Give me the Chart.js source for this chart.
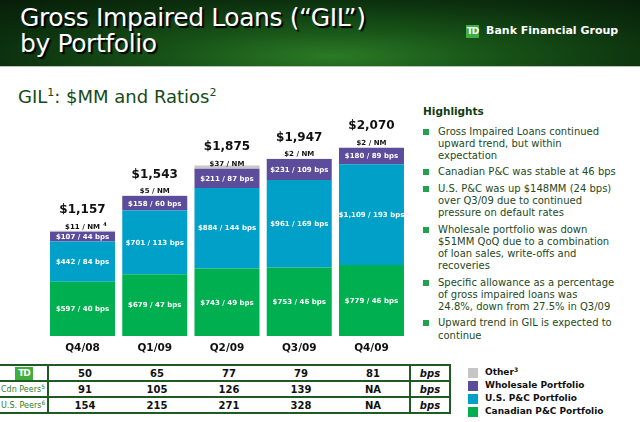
<!DOCTYPE html>
<html>
<head>
<meta charset="utf-8">
<script src="https://cdn.jsdelivr.net/npm/chart.js@4/dist/chart.umd.min.js"></script>
<style>
  html,body{margin:0;padding:0;background:#fff;}
  body{width:640px;height:422px;position:relative;overflow:hidden;font-family:"DejaVu Sans",sans-serif;}
  #hdr{position:absolute;left:0;top:0;width:640px;height:66px;
       background:radial-gradient(ellipse 75% 120% at 52% 85%, #2b7a26 0%, #175217 35%, #0c300e 70%, #071d09 100%);
       border-bottom:1px solid #b9c2b9;}
  #title{position:absolute;left:20px;top:5px;color:#fff;font-size:25px;line-height:26px;letter-spacing:-0.4px;
         text-shadow:2px 2px 1px #000;white-space:nowrap;}
  #logo{position:absolute;left:466px;top:25px;width:13px;height:13px;background:#3fae3f;color:#fff;
        font:bold 9px "DejaVu Sans";line-height:13px;text-align:center;letter-spacing:-1px;}
  #bfg{position:absolute;left:486px;top:24px;color:#fff;font:bold 11px "DejaVu Sans";line-height:14px;white-space:nowrap;}
  #sub{position:absolute;left:18px;top:86px;color:#174a17;font-size:18px;line-height:22px;white-space:nowrap;}
  #sub sup{font-size:11px;vertical-align:7px;line-height:0;}
  #chartbox{position:absolute;left:0;top:70px;width:420px;height:290px;}
  #hl{position:absolute;left:423px;top:104px;color:#0f3d12;font:bold 10.5px "DejaVu Sans";line-height:15px;}
  #list{position:absolute;left:423px;top:125.6px;width:215px;}
  .it{position:relative;padding-left:15px;color:#1e4a1e;font-size:10px;line-height:12.2px;margin-bottom:4.2px;white-space:nowrap;}
  .it:before{content:"";position:absolute;left:0;top:3px;width:6px;height:6px;background:#1fa34a;}
  #tbl{position:absolute;left:0;top:364px;border-collapse:collapse;}
  #tbl td{height:14px;padding:0;border-top:2px solid #1f5a22;border-bottom:2px solid #1f5a22;
          font:bold 10px "DejaVu Sans";color:#111;text-align:center;}
  #tbl td.lab{width:46px;text-align:left;font:8px "DejaVu Sans";color:#2e7d32;border-right:2px solid #1f5a22;white-space:nowrap;padding-left:1px;}
  #tbl td.lab sup{font-size:6px;vertical-align:3px;line-height:0;}
  #tbl td.num{width:72px;}
  #tbl td.unit{width:38px;font-style:italic;border-left:2px solid #1f5a22;border-right:2px solid #1f5a22;}
  .tdl{display:inline-block;width:18px;height:13px;background:#3fae3f;color:#fff;font:bold 9px "DejaVu Sans";line-height:13px;text-align:center;margin-left:14px;letter-spacing:-1px;}
  #leg{position:absolute;left:468px;top:366px;}
  .lg{position:relative;height:13px;padding-left:17px;font:bold 9px "DejaVu Sans";line-height:13px;color:#111;white-space:nowrap;}
  .lg i{position:absolute;left:0;top:1.5px;width:10px;height:10px;}
  .lg sup{font-size:6px;vertical-align:3px;line-height:0;}
</style>
</head>
<body>
<div id="hdr">
  <div id="title">Gross Impaired Loans (“GIL”)<br>by Portfolio</div>
  <div id="logo">TD</div>
  <div id="bfg">Bank Financial Group</div>
</div>
<div id="sub">GIL<sup>1</sup>: $MM and Ratios<sup>2</sup></div>
<div id="chartbox"><canvas id="c" width="420" height="290"></canvas></div>
<div id="hl">Highlights</div>
<div id="list">
  <div class="it">Gross Impaired Loans continued<br>upward trend, but within<br>expectation</div>
  <div class="it">Canadian P&amp;C was stable at 46 bps</div>
  <div class="it">U.S. P&amp;C was up $148MM (24 bps)<br>over Q3/09 due to continued<br>pressure on default rates</div>
  <div class="it">Wholesale portfolio was down<br>$51MM QoQ due to a combination<br>of loan sales, write-offs and<br>recoveries</div>
  <div class="it">Specific allowance as a percentage<br>of gross impaired loans was<br>24.8%, down from 27.5% in Q3/09</div>
  <div class="it">Upward trend in GIL is expected to<br>continue</div>
</div>
<table id="tbl"></table>
<div id="leg"></div>
<script>
// ---- data ----
const quarters = ['Q4/08','Q1/09','Q2/09','Q3/09','Q4/09'];
const canadianPC = [597, 679, 743, 753, 779];
const canadianBps = [40, 47, 49, 46, 46];
const usPC = [442, 701, 884, 961, 1109];
const usBps = [84, 113, 144, 169, 193];
const wholesale = [107, 158, 211, 231, 180];
const wholesaleBps = [44, 60, 87, 109, 89];
const other = [11, 5, 37, 2, 2];
const otherNote = ['4', '', '', '', ''];
const totals = [1157, 1543, 1875, 1947, 2070];
const tdRatio = [50, 65, 77, 79, 81];
const cdnPeers = [91, 105, 126, 139, 'NA'];
const usPeers = [154, 215, 271, 328, 'NA'];
const seriesNames = ['Canadian P&C Portfolio', 'U.S. P&C Portfolio', 'Wholesale Portfolio', 'Other'];

const COLORS = ['#00AF50', '#00A0C8', '#5B4D9C', '#C6C6C6'];
const fmt = v => '$' + v.toLocaleString('en-US');

// ---- table ----
const tbl = document.getElementById('tbl');
function row(labelHtml, vals){
  let h = '<tr><td class="lab">' + labelHtml + '</td>';
  vals.forEach(v => h += '<td class="num">' + v + '</td>');
  h += '<td class="unit">bps</td></tr>';
  return h;
}
tbl.innerHTML = row('<span class="tdl">TD</span>', tdRatio) +
                row('Cdn Peers<sup>5</sup>', cdnPeers) +
                row('U.S. Peers<sup>6</sup>', usPeers);

// ---- legend ----
const leg = document.getElementById('leg');
const legOrder = [3, 2, 1, 0];
leg.innerHTML = legOrder.map(i => '<div class="lg"><i style="background:' + COLORS[i] + '"></i>' +
   seriesNames[i] + (i === 3 ? '<sup>3</sup>' : '') + '</div>').join('');

// ---- chart ----
const segLabels = [
  canadianPC.map((v, i) => fmt(v) + ' / ' + canadianBps[i] + ' bps'),
  usPC.map((v, i) => fmt(v) + ' / ' + usBps[i] + ' bps'),
  wholesale.map((v, i) => fmt(v) + ' / ' + wholesaleBps[i] + ' bps')
];

const labelPlugin = {
  id: 'labels',
  afterDatasetsDraw(chart){
    const ctx = chart.ctx;
    ctx.save();
    ctx.textAlign = 'center';
    ctx.textBaseline = 'middle';
    ctx.fillStyle = '#ffffff';
    ctx.font = 'bold 7px "DejaVu Sans"';
    for (let d = 0; d < 3; d++){
      const meta = chart.getDatasetMeta(d);
      meta.data.forEach((el, i) => {
        ctx.fillText(segLabels[d][i], el.x, (el.y + el.base) / 2 + 0.5);
      });
    }
    const wm = chart.getDatasetMeta(2);
    wm.data.forEach((el, i) => {
      ctx.fillStyle = '#111';
      ctx.font = 'bold 7px "DejaVu Sans"';
      const t = fmt(other[i]) + ' / NM';
      ctx.fillText(t, el.x, el.y - 5);
      if (otherNote[i]) {
        const w = ctx.measureText(t).width;
        ctx.font = 'bold 5px "DejaVu Sans"';
        ctx.fillText(otherNote[i], el.x + w / 2 + 5, el.y - 7);
      }
      ctx.font = 'bold 12px "DejaVu Sans"';
      ctx.fillText(fmt(totals[i]), el.x, el.y - 21.5);
    });
    ctx.restore();
  }
};

new Chart(document.getElementById('c'), {
  type: 'bar',
  data: {
    labels: quarters,
    datasets: [
      { label: seriesNames[0], data: canadianPC, backgroundColor: COLORS[0] },
      { label: seriesNames[1], data: usPC, backgroundColor: COLORS[1] },
      { label: seriesNames[2], data: wholesale, backgroundColor: COLORS[2] },
      { label: seriesNames[3], data: other, backgroundColor: COLORS[3] }
    ]
  },
  options: {
    responsive: false,
    animation: false,
    layout: { padding: { left: 46.4, right: 12.4, top: 29.4, bottom: 0 } },
    datasets: { bar: { categoryPercentage: 1, barPercentage: 0.9 } },
    plugins: { legend: { display: false }, tooltip: { enabled: false } },
    scales: {
      x: {
        stacked: true,
        grid: { display: false, drawTicks: false },
        border: { display: false },
        ticks: { color: '#111', padding: 6, font: { family: 'DejaVu Sans', weight: 'bold', size: 10.5 } },
        afterFit(s){ s.height = 24; }
      },
      y: { stacked: true, display: false, min: 0, max: 2600 }
    }
  },
  plugins: [labelPlugin]
});
</script>
</body>
</html>
